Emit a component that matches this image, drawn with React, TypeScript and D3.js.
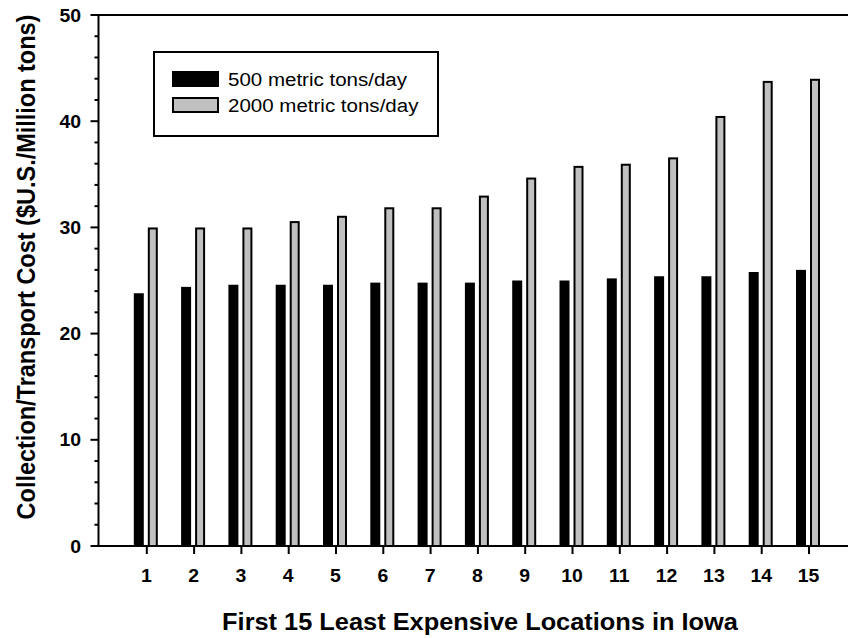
import { useRef, useEffect } from "react";
import * as d3 from "d3";

const locations = [1, 2, 3, 4, 5, 6, 7, 8, 9, 10, 11, 12, 13, 14, 15];
const cost500 = [23.8, 24.4, 24.6, 24.6, 24.6, 24.8, 24.8, 24.8, 25.0, 25.0, 25.2, 25.4, 25.4, 25.8, 26.0];
const cost2000 = [29.9, 29.9, 29.9, 30.5, 31.0, 31.8, 31.8, 32.9, 34.6, 35.7, 35.9, 36.5, 40.4, 43.7, 43.9];
const yTicks = [0, 10, 20, 30, 40, 50];
const yMinorTicks = d3.range(0, 50, 2).filter((v) => v % 10 !== 0);
const seriesLabels = ["500 metric tons/day", "2000 metric tons/day"];

const W = 848;
const H = 638;
const FONT = "'Liberation Sans', Arial, sans-serif";
// the original figure is slightly stretched horizontally
const SX = 1.08;

export default function App() {
  const svgRef = useRef<SVGSVGElement>(null);

  useEffect(() => {
    if (!svgRef.current) return;
    const svg = d3.select(svgRef.current);
    svg.selectAll("*").remove();

    const x = d3.scaleLinear().domain([0, 16]).range([99.5, 856.3]);
    const y = d3.scaleLinear().domain([0, 50]).range([546, 15]);
    const barW = 10;

    // black bars (500 t/day)
    svg
      .append("g")
      .selectAll("rect")
      .data(locations)
      .join("rect")
      .attr("x", (d) => x(d) - 13)
      .attr("y", (_, i) => y(cost500[i]))
      .attr("width", barW)
      .attr("height", (_, i) => y(0) - y(cost500[i]))
      .attr("fill", "#000");

    // gray bars (2000 t/day)
    svg
      .append("g")
      .selectAll("rect")
      .data(locations)
      .join("rect")
      .attr("x", (d) => x(d) + 2)
      .attr("y", (_, i) => y(cost2000[i]))
      .attr("width", barW - 2)
      .attr("height", (_, i) => y(0) - y(cost2000[i]))
      .attr("fill", "#c0c0c0")
      .attr("stroke", "#000")
      .attr("stroke-width", 2);

    // frame: top line, left axis, bottom axis
    const axisG = svg.append("g").attr("stroke", "#000").attr("stroke-width", 2);
    axisG.append("line").attr("x1", x(0) - 1).attr("x2", W).attr("y1", y(50)).attr("y2", y(50));
    axisG.append("line").attr("x1", x(0) - 1).attr("x2", W).attr("y1", y(0)).attr("y2", y(0));
    axisG.append("line").attr("x1", x(0) - 1).attr("x2", x(0) - 1).attr("y1", y(50) - 1).attr("y2", y(0) + 1);

    // y ticks
    axisG
      .selectAll("line.major")
      .data(yTicks)
      .join("line")
      .attr("class", "major")
      .attr("x1", x(0) - 9)
      .attr("x2", x(0) - 1)
      .attr("y1", (d) => y(d))
      .attr("y2", (d) => y(d));
    axisG
      .selectAll("line.minor")
      .data(yMinorTicks)
      .join("line")
      .attr("class", "minor")
      .attr("x1", x(0) - 5)
      .attr("x2", x(0) - 1)
      .attr("y1", (d) => y(d))
      .attr("y2", (d) => y(d));

    // x ticks
    axisG
      .selectAll("line.xt")
      .data(locations)
      .join("line")
      .attr("class", "xt")
      .attr("x1", (d) => x(d))
      .attr("x2", (d) => x(d))
      .attr("y1", y(0))
      .attr("y2", y(0) + 8);

    // tick labels
    svg
      .append("g")
      .selectAll("text")
      .data(yTicks)
      .join("text")
      .attr("transform", (d) => `translate(81,${y(d) + 6.5}) scale(${SX},1)`)
      .attr("text-anchor", "end")
      .attr("font-family", FONT)
      .attr("font-weight", "bold")
      .attr("font-size", "18px")
      .text((d) => d);

    svg
      .append("g")
      .selectAll("text")
      .data(locations)
      .join("text")
      .attr("transform", (d) => `translate(${x(d) - 0.5},582) scale(${SX},1)`)
      .attr("text-anchor", "middle")
      .attr("font-family", FONT)
      .attr("font-weight", "bold")
      .attr("font-size", "18px")
      .text((d) => d);

    // axis titles
    svg
      .append("text")
      .attr("transform", `translate(480,630) scale(${SX},1)`)
      .attr("text-anchor", "middle")
      .attr("font-family", FONT)
      .attr("font-weight", "bold")
      .attr("font-size", "23.5px")
      .text("First 15 Least Expensive Locations in Iowa");

    svg
      .append("text")
      .attr("transform", `translate(35,267) rotate(-90) scale(1,${SX})`)
      .attr("text-anchor", "middle")
      .attr("font-family", FONT)
      .attr("font-weight", "bold")
      .attr("font-size", "23.5px")
      .text("Collection/Transport Cost ($U.S./Million tons)");

    // legend
    const lg = svg.append("g");
    lg.append("rect")
      .attr("x", 154)
      .attr("y", 52)
      .attr("width", 284)
      .attr("height", 84)
      .attr("fill", "#fff")
      .attr("stroke", "#000")
      .attr("stroke-width", 2);
    const fills = ["#000", "#c0c0c0"];
    seriesLabels.forEach((label, i) => {
      lg.append("rect")
        .attr("x", 173)
        .attr("y", 72 + i * 26)
        .attr("width", 45)
        .attr("height", 14)
        .attr("fill", fills[i])
        .attr("stroke", "#000")
        .attr("stroke-width", 2);
      lg.append("text")
        .attr("transform", `translate(228,${86 + i * 26}) scale(${SX},1)`)
        .attr("font-family", FONT)
        .attr("font-size", "19px")
        .text(label);
    });
  }, []);

  return (
    <svg
      ref={svgRef}
      width={W}
      height={H}
      style={{ position: "absolute", left: 0, top: 0, background: "#fff" }}
    />
  );
}
